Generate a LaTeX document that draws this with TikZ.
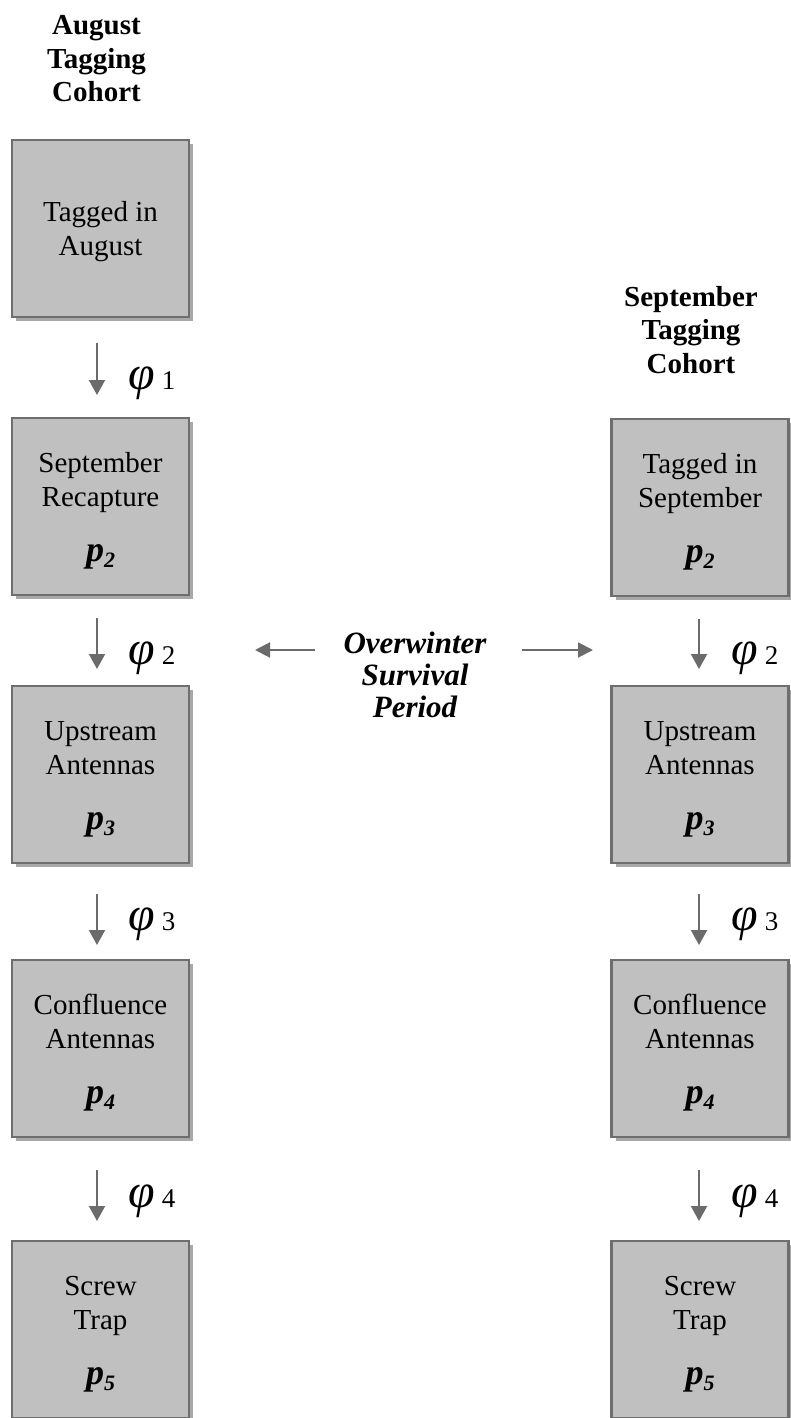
\documentclass[tikz,border=0pt]{standalone}
\usepackage{fontspec}
\setmainfont{Liberation Serif}
\usetikzlibrary{arrows.meta,shadows}
\definecolor{boxfill}{HTML}{C0C0C0}
\definecolor{boxline}{HTML}{6E6E6E}
\definecolor{shade}{HTML}{A8A8A8}
\definecolor{arr}{HTML}{6B6B6B}
\tikzset{
  box/.style={draw=boxline, line width=2.5pt, fill=boxfill,
    minimum width=177pt, minimum height=177pt, inner sep=0pt, outer sep=0pt,
    general shadow={fill=shade, shadow xshift=4pt, shadow yshift=-4pt}},
  boxtext/.style={font=\fontsize{29}{34}\selectfont, align=center, anchor=base, inner sep=0pt},
  ptext/.style={font=\fontsize{36}{36}\selectfont\bfseries\itshape, anchor=base, inner sep=0pt},
  head/.style={font=\fontsize{29}{33.5}\selectfont\bfseries, align=center, anchor=base, inner sep=0pt},
  midtext/.style={font=\fontsize{31}{32}\selectfont\bfseries\itshape, align=center, anchor=base, inner sep=0pt},
  phitext/.style={font=\fontsize{27}{27}\selectfont, anchor=base west, inner sep=0pt},
  varr/.style={draw=arr, line width=2pt, -{Triangle[length=15pt,width=16pt]}},
  harr/.style={draw=arr, line width=2pt, -{Triangle[length=15pt,width=15pt]}}
}
\newcommand{\pp}[1]{p\raisebox{-6pt}{\fontsize{22}{22}\selectfont #1}}
\newcommand{\ph}[1]{{\fontsize{48}{48}\selectfont\itshape φ}\hspace{7pt}#1}
\begin{document}
\begin{tikzpicture}[x=1pt,y=-1pt]
\useasboundingbox (0,0) rectangle (790,1418);
% headers (base = last line)
\node[head] (hL) at (96.5,102) {August\\Tagging\\Cohort};
\node[head] (hR) at (691,373) {September\\Tagging\\Cohort};
% left column boxes
\node[box] (L1) at (100.5,228.5) {};
\node[box] (L2) at (100.5,506.5) {};
\node[box] (L3) at (100.5,774.5) {};
\node[box] (L4) at (100.5,1048.5) {};
\node[box] (L5) at (100.5,1329.5) {};
% right column boxes
\node[box] (R2) at (700,507.5) {};
\node[box] (R3) at (700,774.5) {};
\node[box] (R4) at (700,1048.5) {};
\node[box] (R5) at (700,1329.5) {};
% box texts (base = last line)
\node[boxtext] (L1t) at ([yshift=-115pt]L1.north) {Tagged in\\August};
\node[boxtext] (L2t) at ([yshift=-88pt]L2.north) {September\\Recapture};
\node[ptext] (L2p) at ([yshift=-143pt]L2.north) {\pp{2}};
\node[boxtext] (L3t) at ([yshift=-88pt]L3.north) {Upstream\\Antennas};
\node[ptext] (L3p) at ([yshift=-143pt]L3.north) {\pp{3}};
\node[boxtext] (L4t) at ([yshift=-88pt]L4.north) {Confluence\\Antennas};
\node[ptext] (L4p) at ([yshift=-143pt]L4.north) {\pp{4}};
\node[boxtext] (L5t) at ([yshift=-88pt]L5.north) {Screw\\Trap};
\node[ptext] (L5p) at ([yshift=-143pt]L5.north) {\pp{5}};
\node[boxtext] (R2t) at ([yshift=-88pt]R2.north) {Tagged in\\September};
\node[ptext] (R2p) at ([yshift=-143pt]R2.north) {\pp{2}};
\node[boxtext] (R3t) at ([yshift=-88pt]R3.north) {Upstream\\Antennas};
\node[ptext] (R3p) at ([yshift=-143pt]R3.north) {\pp{3}};
\node[boxtext] (R4t) at ([yshift=-88pt]R4.north) {Confluence\\Antennas};
\node[ptext] (R4p) at ([yshift=-143pt]R4.north) {\pp{4}};
\node[boxtext] (R5t) at ([yshift=-88pt]R5.north) {Screw\\Trap};
\node[ptext] (R5p) at ([yshift=-143pt]R5.north) {\pp{5}};
% vertical arrows left
\draw[varr] ([xshift=-3.5pt,yshift=-26pt]L1.south) -- ([xshift=-3.5pt,yshift=23pt]L2.north);
\draw[varr] ([xshift=-3.5pt,yshift=-23pt]L2.south) -- ([xshift=-3.5pt,yshift=17pt]L3.north);
\draw[varr] ([xshift=-3.5pt,yshift=-31pt]L3.south) -- ([xshift=-3.5pt,yshift=15pt]L4.north);
\draw[varr] ([xshift=-3.5pt,yshift=-33pt]L4.south) -- ([xshift=-3.5pt,yshift=20pt]L5.north);
% vertical arrows right
\draw[varr] ([xshift=-1pt,yshift=-23pt]R2.south) -- ([xshift=-1pt,yshift=17pt]R3.north);
\draw[varr] ([xshift=-1pt,yshift=-31pt]R3.south) -- ([xshift=-1pt,yshift=15pt]R4.north);
\draw[varr] ([xshift=-1pt,yshift=-33pt]R4.south) -- ([xshift=-1pt,yshift=20pt]R5.north);
% phi labels
\node[phitext] (f1) at (128,389) {\ph{1}};
\node[phitext] (f2) at (128,664) {\ph{2}};
\node[phitext] (f3) at (128,930) {\ph{3}};
\node[phitext] (f4) at (128,1207) {\ph{4}};
\node[phitext] (g2) at (731,664) {\ph{2}};
\node[phitext] (g3) at (731,930) {\ph{3}};
\node[phitext] (g4) at (731,1207) {\ph{4}};
% overwinter
\node[midtext] (ow) at (415,717) {Overwinter\\Survival\\Period};
\coordinate (owL) at (315,650);
\coordinate (owR) at (522,650);
\coordinate (owLt) at (255,650);
\coordinate (owRt) at (593,650);
\draw[harr] (owL) -- (owLt);
\draw[harr] (owR) -- (owRt);
\end{tikzpicture}
\end{document}
